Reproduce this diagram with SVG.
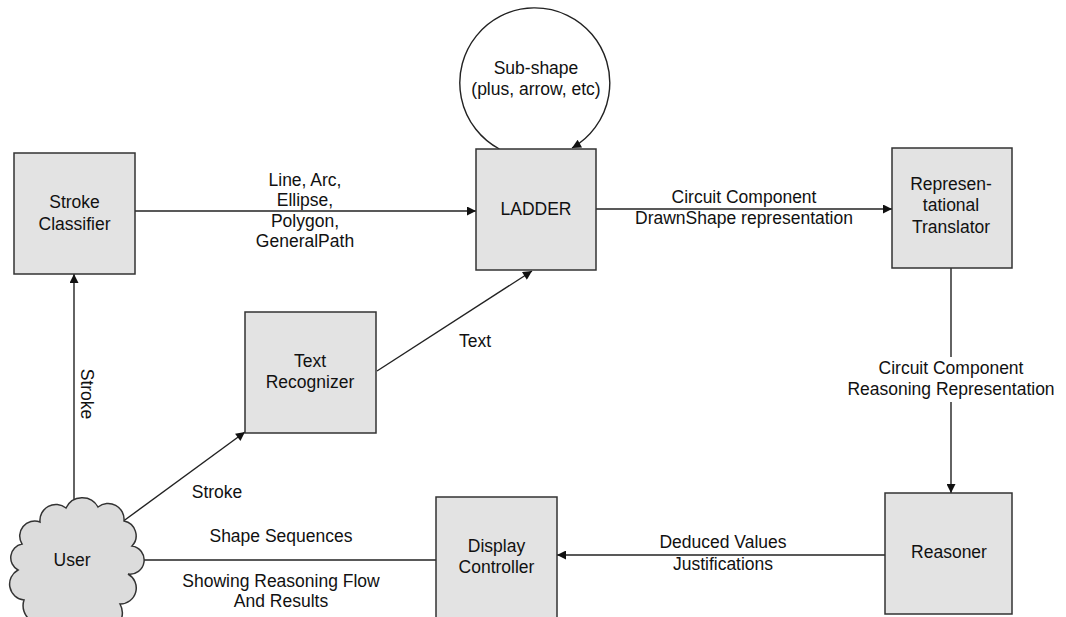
<svg xmlns="http://www.w3.org/2000/svg" width="1066" height="617" viewBox="0 0 1066 617">
<defs>
<marker id="ah" viewBox="0 0 10 10" refX="10" refY="5" markerWidth="11" markerHeight="9" markerUnits="userSpaceOnUse" orient="auto">
<path d="M0,0 L10,5 L0,10 Z" fill="#111"/>
</marker>
</defs>
<style>
.box{fill:#e3e3e3;stroke:#333;stroke-width:1.5}
.cloud{fill:#dcdcdc;stroke:#333;stroke-width:1.5}
.ring{fill:none;stroke:#222;stroke-width:1.3}
.ln{fill:none;stroke:#222;stroke-width:1.4}
.arr{fill:none;stroke:#222;stroke-width:1.4;marker-end:url(#ah)}
text{font-family:"Liberation Sans",Arial,sans-serif;font-size:17.5px;fill:#111;text-anchor:middle}
</style>
<rect width="1066" height="617" fill="#fff"/>
<g id="connectors">
<line class="arr" x1="135" y1="211" x2="476" y2="211"/>
<path class="arr" d="M499.4,149 A75,75 0 1 1 572,148"/>
<line class="arr" x1="596" y1="209" x2="892" y2="209"/>
<line class="ln" x1="951" y1="268" x2="951" y2="357"/>
<line class="arr" x1="951" y1="402" x2="951" y2="493"/>
<line class="arr" x1="885" y1="555" x2="557" y2="555"/>
<line class="arr" x1="436" y1="560" x2="127" y2="560"/>
<line class="arr" x1="74" y1="506" x2="74" y2="274"/>
<line class="arr" x1="118" y1="525" x2="245" y2="432"/>
<line class="arr" x1="377" y1="371" x2="532" y2="271"/>
<text x="305" y="186">Line, Arc,</text>
<text x="305" y="206">Ellipse,</text>
<text x="305" y="227">Polygon,</text>
<text x="305" y="247">GeneralPath</text>
<text x="744" y="203">Circuit Component</text>
<text x="744" y="224">DrawnShape representation</text>
<text x="951" y="374">Circuit Component</text>
<text x="951" y="395">Reasoning Representation</text>
<text x="723" y="548">Deduced Values</text>
<text x="723" y="570">Justifications</text>
<text x="281" y="542">Shape Sequences</text>
<text x="281" y="587">Showing Reasoning Flow</text>
<text x="281" y="607">And Results</text>
<text x="217" y="498">Stroke</text>
<text x="475" y="347">Text</text>
<text transform="translate(81,394) rotate(90)">Stroke</text>
</g>
<g id="subshape">
<text x="536" y="74">Sub-shape</text>
<text x="536" y="95">(plus, arrow, etc)</text>
</g>
<g id="stroke-classifier">
<rect class="box" x="14" y="153" width="121" height="121"/>
<text x="74.5" y="208">Stroke</text>
<text x="74.5" y="230">Classifier</text>
</g>
<g id="ladder">
<rect class="box" x="476" y="149" width="120" height="121"/>
<text x="536" y="215">LADDER</text>
</g>
<g id="translator">
<rect class="box" x="892" y="148" width="120" height="120"/>
<text x="951" y="190">Represen-</text>
<text x="951" y="211">tational</text>
<text x="951" y="233">Translator</text>
</g>
<g id="reasoner">
<rect class="box" x="885" y="493" width="127" height="121"/>
<text x="949" y="558">Reasoner</text>
</g>
<g id="display-controller">
<rect class="box" x="436" y="497" width="121" height="130"/>
<text x="496.5" y="552">Display</text>
<text x="496.5" y="573">Controller</text>
</g>
<g id="text-recognizer">
<rect class="box" x="245" y="312" width="131" height="121"/>
<text x="310" y="367">Text</text>
<text x="310" y="388">Recognizer</text>
</g>
<g id="user">
<path class="cloud" d="M40,522 A16,16 0 0 1 66,508 A18,18 0 0 1 98,507 A16,16 0 0 1 124,521 A15,15 0 0 1 132,546 A14,14 0 0 1 128,574 A16,16 0 0 1 120,604 A18,18 0 0 1 88,622 A19,19 0 0 1 52,620 A18,18 0 0 1 24,600 A16,16 0 0 1 18,570 A14,14 0 0 1 22,544 A15,15 0 0 1 40,522 Z"/>
<text x="72" y="566">User</text>
</g>
</svg>
